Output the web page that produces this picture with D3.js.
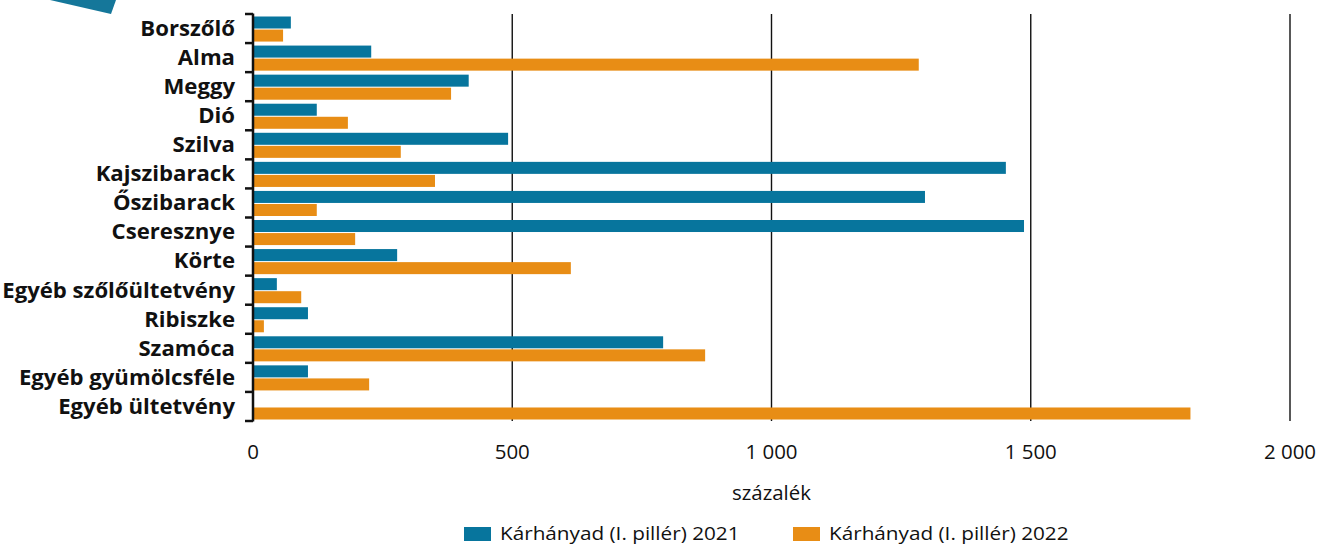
<!DOCTYPE html>
<html>
<head>
<meta charset="utf-8">
<script src="https://cdn.jsdelivr.net/npm/d3@7"></script>
<style>
  body { margin: 0; background: #fff; }
  text { font-family: "Open Sans", sans-serif; fill: #111; }
</style>
</head>
<body>
<div id="chart"></div>
<script>
var width = 1318,
    height = 545;

// categories, top to bottom
var categories = ["Borszőlő", "Alma", "Meggy", "Dió", "Szilva", "Kajszibarack",
    "Őszibarack", "Cseresznye", "Körte", "Egyéb szőlőültetvény", "Ribiszke",
    "Szamóca", "Egyéb gyümölcsféle", "Egyéb ültetvény"];

// kárhányad, százalék
var values2021 = [73, 228, 416, 123, 492, 1452, 1296, 1487, 278, 46, 106, 791, 106, 0];
var values2022 = [58, 1284, 382, 183, 285, 351, 123, 197, 613, 93, 21, 872, 224, 1808];

var seriesNames = ["Kárhányad (I. pillér) 2021", "Kárhányad (I. pillér) 2022"];
var seriesColors = ["#07759d", "#e88d15"];
var xTicks = [0, 500, 1000, 1500, 2000];

var svg = d3.select("#chart").append("svg")
    .attr("width", width)
    .attr("height", height);

// stretch/squeeze text horizontally by factor k (font differs from the original)
function stretch(sel, k) {
    sel.each(function() {
        var w = this.getComputedTextLength();
        d3.select(this)
          .attr("textLength", w * k)
          .attr("lengthAdjust", "spacingAndGlyphs");
    });
}

// little decoration in the top left corner
svg.append("path")
    .attr("d", "M50,0 L116,0 L111,14 Z")
    .attr("fill", "#15779a");

var x = d3.scaleLinear()
    .domain([0, 2000])
    .range([253, 1290]);

var y = d3.scaleBand()
    .domain(categories)
    .range([14, 421])
    .paddingInner(0)
    .paddingOuter(0);

var ySub = d3.scaleBand()
    .domain([0, 1])
    .range([2.5, y.bandwidth() - 1.5])
    .paddingInner(0.08);

var huLocale = d3.formatLocale({decimal: ",", thousands: " ", grouping: [3], currency: ["", ""]});
var fmt = huLocale.format(",d");

// vertical gridlines
svg.append("g")
  .selectAll("line")
  .data(xTicks.filter(function(d) { return d > 0; }))
  .enter()
  .append("line")
    .attr("x1", function(d) { return x(d); })
    .attr("x2", function(d) { return x(d); })
    .attr("y1", y.range()[0])
    .attr("y2", y.range()[1])
    .attr("stroke", "#111")
    .attr("stroke-width", 1.4);

// bars
var rows = categories.map(function(c, i) {
    return {cat: c, vals: [values2021[i], values2022[i]]};
});

var groups = svg.append("g")
  .selectAll("g")
  .data(rows)
  .enter()
  .append("g")
    .attr("transform", function(d) { return "translate(0," + y(d.cat) + ")"; });

groups.selectAll("rect")
  .data(function(d) { return d.vals.map(function(v, k) { return {v: v, k: k}; }); })
  .enter()
  .append("rect")
    .attr("x", x(0))
    .attr("y", function(d) { return ySub(d.k); })
    .attr("width", function(d) { return x(d.v) - x(0); })
    .attr("height", ySub.bandwidth())
    .attr("fill", function(d) { return seriesColors[d.k]; });

// left axis: line + boundary ticks
var bounds = categories.map(function(c) { return y(c); }).concat([y.range()[1]]);
svg.append("line")
    .attr("x1", x(0)).attr("x2", x(0))
    .attr("y1", y.range()[0] - 0.5).attr("y2", y.range()[1] + 0.5)
    .attr("stroke", "#111")
    .attr("stroke-width", 2.5);
svg.append("g")
  .selectAll("line")
  .data(bounds)
  .enter()
  .append("line")
    .attr("x1", x(0) - 8).attr("x2", x(0))
    .attr("y1", function(d) { return d; })
    .attr("y2", function(d) { return d; })
    .attr("stroke", "#111")
    .attr("stroke-width", 2.5);

// category labels
svg.append("g")
  .selectAll("text")
  .data(categories)
  .enter()
  .append("text")
    .attr("x", 235)
    .attr("y", function(d) { return y(d) + y.bandwidth() / 2; })
    .attr("dy", "0.36em")
    .attr("text-anchor", "end")
    .style("font-weight", "bold")
    .style("font-size", "20.5px")
    .text(function(d) { return d; })
    .call(stretch, 1.08);

// x tick labels
svg.append("g")
  .selectAll("text")
  .data(xTicks)
  .enter()
  .append("text")
    .attr("x", function(d) { return x(d); })
    .attr("y", 452)
    .attr("dy", "0.36em")
    .attr("text-anchor", "middle")
    .style("font-size", "19.5px")
    .text(function(d) { return fmt(d); })
    .call(stretch, 1.05);

// axis title
svg.append("text")
    .attr("x", x(1000))
    .attr("y", 493)
    .attr("dy", "0.36em")
    .attr("text-anchor", "middle")
    .style("font-size", "20px")
    .text("százalék")
    .call(stretch, 1.02);

// legend
var legendX = [464, 793];
var legend = svg.append("g")
  .selectAll("g")
  .data(seriesNames)
  .enter()
  .append("g")
    .attr("transform", function(d, i) { return "translate(" + legendX[i] + ",527)"; });

legend.append("rect")
    .attr("width", 27)
    .attr("height", 14)
    .attr("fill", function(d, i) { return seriesColors[i]; });

legend.append("text")
    .attr("x", 36)
    .attr("y", 6)
    .attr("dy", "0.36em")
    .style("font-size", "19px")
    .text(function(d) { return d; })
    .call(stretch, 1.09);
</script>
</body>
</html>
